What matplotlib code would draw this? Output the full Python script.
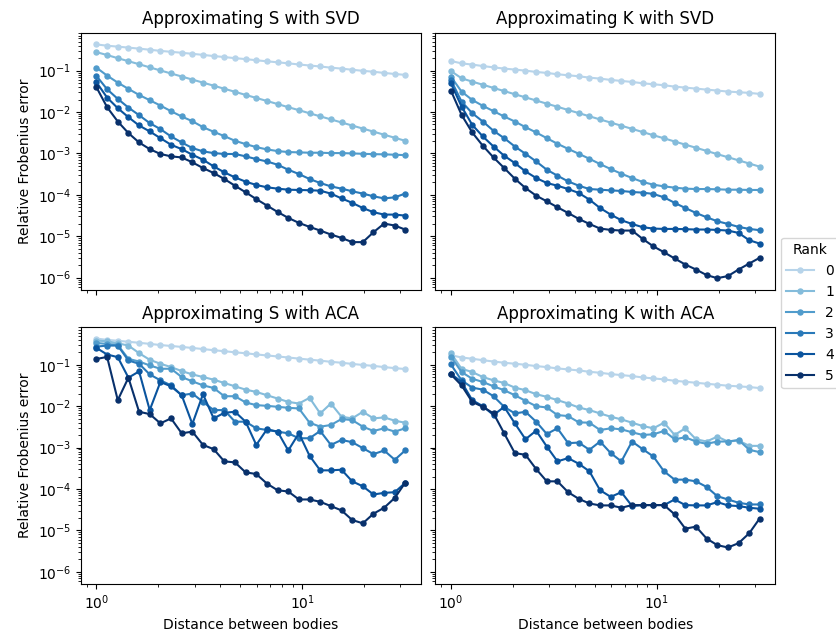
import numpy as np
import matplotlib
matplotlib.use("Agg")
import matplotlib.pyplot as plt

distances = [1.000, 1.1266, 1.2693, 1.4300, 1.6111, 1.8151, 2.0450, 2.3039, 2.5957, 2.9244,
             3.2947, 3.7120, 4.1820, 4.7116, 5.3083, 5.9805, 6.7379, 7.5912, 8.5525, 9.6355,
             10.856, 12.230, 13.779, 15.524, 17.490, 19.705, 22.200, 25.011, 28.179, 31.623]

ranks = ["0", "1", "2", "3", "4", "5"]

# ---- S with SVD ----
s_svd_0 = [0.43, 0.40, 0.38, 0.36, 0.34, 0.32, 0.30, 0.285, 0.27, 0.255, 0.24, 0.225, 0.213, 0.20, 0.19,
           0.178, 0.168, 0.159, 0.15, 0.141, 0.133, 0.126, 0.118, 0.112, 0.105, 0.099, 0.094, 0.088, 0.083, 0.079]
s_svd_1 = [0.28, 0.238, 0.20, 0.169, 0.143, 0.120, 0.101, 0.0855, 0.0721, 0.0608, 0.0513, 0.0433, 0.0365,
           0.0308, 0.0259, 0.0219, 0.0185, 0.0156, 0.0131, 0.0111, 0.00933, 0.00787, 0.00664, 0.0056,
           0.00472, 0.00398, 0.00336, 0.00283, 0.00239, 0.00202]
s_svd_2 = [0.118, 0.0758, 0.0514, 0.0362, 0.0259, 0.0193, 0.01435, 0.01047, 0.0078, 0.0060, 0.00431,
           0.00333, 0.00262, 0.00202, 0.00168, 0.00142, 0.00125, 0.00114, 0.00108, 0.00106, 0.00104,
           0.00104, 0.00102, 0.00102, 0.00100, 0.00098, 0.00096, 0.00095, 0.00093, 0.00091]
s_svd_3 = [0.0744, 0.0355, 0.0208, 0.0128, 0.0084, 0.0054, 0.00387, 0.00257, 0.00184, 0.00135, 0.00112,
           0.00102, 0.00097, 0.00097, 0.00085, 0.00073, 0.00064, 0.000533, 0.000404, 0.000318, 0.000241,
           0.000193, 0.00016, 0.000141, 0.000122, 0.000107, 9.2e-5, 8.2e-5, 8.7e-5, 1.07e-4]
s_svd_4 = [0.0524, 0.0223, 0.0124, 0.0075, 0.00473, 0.0034, 0.00234, 0.00162, 0.00127, 0.00093, 0.000704,
           0.000487, 0.000349, 0.000264, 0.000208, 0.000173, 0.000152, 0.000141, 0.000133, 0.000131,
           0.000129, 0.000126, 0.000107, 8.2e-5, 6.4e-5, 4.8e-5, 3.8e-5, 3.33e-5, 3.33e-5, 3.15e-5]
s_svd_5 = [0.0396, 0.0131, 0.0059, 0.0031, 0.00184, 0.00127, 0.00097, 0.00085, 0.0008, 0.00061, 0.000444,
           0.000336, 0.000241, 0.000166, 0.000115, 7.9e-5, 5.5e-5, 3.86e-5, 2.77e-5, 2.1e-5, 1.68e-5,
           1.37e-5, 1.1e-5, 9.1e-6, 7.2e-6, 7.2e-6, 1.25e-5, 2.02e-5, 1.81e-5, 1.45e-5]

# ---- K with SVD ----
k_svd_0 = [0.171, 0.150, 0.140, 0.129, 0.120, 0.112, 0.106, 0.100, 0.093, 0.088, 0.0817, 0.0773, 0.073,
           0.0678, 0.0641, 0.0596, 0.0564, 0.0533, 0.0495, 0.0469, 0.0444, 0.0411, 0.0389, 0.0368, 0.0348,
           0.033, 0.0312, 0.0301, 0.029, 0.0274]
k_svd_1 = [0.098, 0.0653, 0.0543, 0.0456, 0.0382, 0.0321, 0.0269, 0.0226, 0.019, 0.0159, 0.0134, 0.0112,
           0.00942, 0.00789, 0.00662, 0.00556, 0.00467, 0.00392, 0.00328, 0.00275, 0.00232, 0.00194,
           0.00163, 0.00137, 0.00115, 0.00096, 0.00081, 0.00068, 0.00057, 0.00048]
k_svd_2 = [0.0717, 0.0312, 0.0196, 0.0141, 0.0105, 0.0078, 0.0059, 0.00431, 0.00321, 0.00234, 0.00171,
           0.00129, 0.00098, 0.000743, 0.000553, 0.000419, 0.000323, 0.000255, 0.000204, 0.000176,
           0.00016, 0.000149, 0.000141, 0.000138, 0.000138, 0.000136, 0.000133, 0.000133, 0.000131, 0.000131]
k_svd_3 = [0.0596, 0.0179, 0.00937, 0.0059, 0.00352, 0.00234, 0.00147, 0.00098, 0.000641, 0.000404,
           0.00029, 0.000211, 0.000166, 0.000138, 0.000133, 0.000128, 0.000124, 0.000117, 0.000113,
           0.000105, 8.7e-5, 6.4e-5, 4.8e-5, 3.65e-5, 2.87e-5, 2.3e-5, 1.98e-5, 1.68e-5, 1.5e-5, 1.4e-5]
k_svd_4 = [0.0496, 0.0136, 0.00491, 0.00257, 0.00147, 0.00088, 0.000585, 0.000368, 0.000255, 0.000193,
           0.000166, 0.000138, 0.000111, 7.65e-5, 4.8e-5, 3.33e-5, 2.43e-5, 1.98e-5, 1.65e-5, 1.53e-5,
           1.5e-5, 1.5e-5, 1.48e-5, 1.45e-5, 1.45e-5, 1.42e-5, 1.37e-5, 1.2e-5, 8.0e-6, 6.65e-6]
k_svd_5 = [0.033, 0.00855, 0.00321, 0.00153, 0.0008, 0.000444, 0.000245, 0.000146, 9.55e-5, 6.97e-5,
           5.0e-5, 3.65e-5, 2.62e-5, 1.98e-5, 1.53e-5, 1.42e-5, 1.37e-5, 1.37e-5, 8.6e-6, 5.7e-6, 4.1e-6,
           2.9e-6, 2.07e-6, 1.57e-6, 1.15e-6, 9.7e-7, 1.09e-6, 1.57e-6, 2.19e-6, 3.0e-6]

# ---- S with ACA ----
s_aca_0 = [0.43, 0.40, 0.38, 0.36, 0.34, 0.32, 0.30, 0.285, 0.27, 0.255, 0.24, 0.225, 0.213, 0.20, 0.19,
           0.178, 0.168, 0.159, 0.15, 0.141, 0.133, 0.126, 0.118, 0.112, 0.105, 0.099, 0.094, 0.088, 0.083, 0.079]
s_aca_1 = [0.384, 0.37, 0.331, 0.291, 0.191, 0.132, 0.106, 0.088, 0.0705, 0.0586, 0.0506, 0.0437, 0.0363,
           0.0302, 0.0251, 0.0221, 0.0184, 0.0153, 0.0127, 0.0116, 0.0159, 0.00668, 0.0116, 0.00556,
           0.00507, 0.00733, 0.00507, 0.00536, 0.00446, 0.00399]
s_aca_2 = [0.337, 0.319, 0.302, 0.139, 0.120, 0.0964, 0.0802, 0.0802, 0.0506, 0.0398, 0.0319, 0.0275,
           0.0174, 0.0174, 0.0123, 0.0106, 0.0102, 0.00966, 0.00914, 0.00881, 0.00399, 0.0032, 0.00351,
           0.00489, 0.00462, 0.0032, 0.00252, 0.00292, 0.00243, 0.00292]
s_aca_3 = [0.275, 0.291, 0.291, 0.127, 0.106, 0.0586, 0.0421, 0.0319, 0.0184, 0.0202, 0.0127, 0.00804,
           0.00804, 0.00422, 0.00422, 0.00292, 0.00266, 0.00243, 0.00221, 0.00168, 0.00168, 0.00252,
           0.00116, 0.00153, 0.00135, 0.00097, 0.000695, 0.000851, 0.000508, 0.000851]
s_aca_4 = [0.256, 0.177, 0.153, 0.0488, 0.0692, 0.00804, 0.0384, 0.0302, 0.0184, 0.00371, 0.0195,
           0.00507, 0.00693, 0.00733, 0.00422, 0.00116, 0.00276, 0.00243, 0.000851, 0.00221, 0.000634,
           0.000282, 0.000282, 0.000292, 0.000153, 0.000116, 7.36e-5, 8.06e-5, 8.36e-5, 0.00014]
s_aca_5 = [0.138, 0.155, 0.014, 0.0488, 0.00733, 0.00644, 0.00385, 0.00507, 0.00221, 0.00243, 0.00116,
           0.000916, 0.000464, 0.000439, 0.000252, 0.00023, 0.000135, 9.3e-5, 8.7e-5, 5.58e-5, 5.58e-5,
           4.9e-5, 3.86e-5, 3.04e-5, 1.78e-5, 1.48e-5, 2.53e-5, 3.52e-5, 6.1e-5, 0.00014]

# ---- K with ACA ----
k_aca_0 = [0.171, 0.150, 0.140, 0.129, 0.120, 0.112, 0.106, 0.100, 0.093, 0.088, 0.0817, 0.0773, 0.073,
           0.0678, 0.0641, 0.0596, 0.0564, 0.0533, 0.0495, 0.0469, 0.0444, 0.0411, 0.0389, 0.0368, 0.0348,
           0.033, 0.0312, 0.0301, 0.029, 0.0274]
k_aca_1 = [0.191, 0.0802, 0.0667, 0.0506, 0.0421, 0.0363, 0.0281, 0.0243, 0.0195, 0.0168, 0.014, 0.0116,
           0.0093, 0.00804, 0.00668, 0.00556, 0.0048, 0.00399, 0.00332, 0.00292, 0.00399, 0.00202,
           0.00292, 0.00159, 0.0014, 0.00184, 0.0014, 0.00148, 0.0011, 0.0011]
k_aca_2 = [0.158, 0.0667, 0.0461, 0.0384, 0.0302, 0.0243, 0.0184, 0.0135, 0.01, 0.0093, 0.0061, 0.00577,
           0.00407, 0.00399, 0.00266, 0.00292, 0.00276, 0.00234, 0.00202, 0.00209, 0.00252, 0.00159,
           0.00177, 0.0014, 0.00123, 0.0014, 0.0014, 0.00153, 0.000883, 0.000776]
k_aca_3 = [0.102, 0.0421, 0.0281, 0.0251, 0.0174, 0.00966, 0.00668, 0.00733, 0.00422, 0.00213, 0.00292,
           0.00128, 0.00132, 0.000883, 0.0014, 0.000735, 0.000464, 0.0014, 0.000916, 0.000611, 0.000267,
           0.000168, 0.000168, 0.000153, 0.000112, 6.7e-5, 5.58e-5, 4.64e-5, 4.23e-5, 4.23e-5]
k_aca_4 = [0.0608, 0.0384, 0.014, 0.01, 0.0061, 0.00966, 0.00385, 0.00159, 0.00256, 0.00106, 0.000464,
           0.000557, 0.000407, 0.000267, 9.33e-5, 6.45e-5, 8.36e-5, 3.86e-5, 4.08e-5, 4.08e-5, 4.08e-5,
           5.58e-5, 4.08e-5, 4.01e-5, 4.01e-5, 4.82e-5, 4.01e-5, 3.86e-5, 3.52e-5, 3.33e-5]
k_aca_5 = [0.0586, 0.0319, 0.0127, 0.00966, 0.00668, 0.00221, 0.000735, 0.00067, 0.000303, 0.000153,
           0.000153, 8.36e-5, 5.78e-5, 4.46e-5, 4.01e-5, 4.01e-5, 3.52e-5, 4.08e-5, 4.08e-5, 4.08e-5,
           4.08e-5, 2.44e-5, 1.1e-5, 1.23e-5, 6.35e-6, 4.4e-6, 3.86e-6, 4.91e-6, 8.53e-6, 1.92e-5]

panels = [
    ("Approximating S with SVD", [s_svd_0, s_svd_1, s_svd_2, s_svd_3, s_svd_4, s_svd_5]),
    ("Approximating K with SVD", [k_svd_0, k_svd_1, k_svd_2, k_svd_3, k_svd_4, k_svd_5]),
    ("Approximating S with ACA", [s_aca_0, s_aca_1, s_aca_2, s_aca_3, s_aca_4, s_aca_5]),
    ("Approximating K with ACA", [k_aca_0, k_aca_1, k_aca_2, k_aca_3, k_aca_4, k_aca_5]),
]

colors = plt.cm.Blues(np.linspace(0.3, 1.0, len(ranks)))

fig, axes = plt.subplots(2, 2, sharex=True, sharey=True, figsize=(8.37, 6.33), dpi=100)
fig.subplots_adjust(left=0.0968, right=0.9259, top=0.9483, bottom=0.0774, wspace=0.044, hspace=0.144)

for ax, (title, series) in zip(axes.flat, panels):
    for r, vals, c in zip(ranks, series, colors):
        ax.plot(distances, vals, marker="o", markersize=3.6, linewidth=1.5, color=c, label=r)
    ax.set_xscale("log")
    ax.set_yscale("log")
    ax.set_title(title, fontsize=12)

for ax in axes[:, 0]:
    ax.set_ylabel("Relative Frobenius error")
for ax in axes[1, :]:
    ax.set_xlabel("Distance between bodies")

handles, labels = axes[0, 0].get_legend_handles_labels()
fig.legend(handles, labels, title="Rank", loc="center left",
           bbox_to_anchor=(0.9247, 0.5055), fontsize=10, title_fontsize=10)

fig.savefig("out.png", dpi=100)
